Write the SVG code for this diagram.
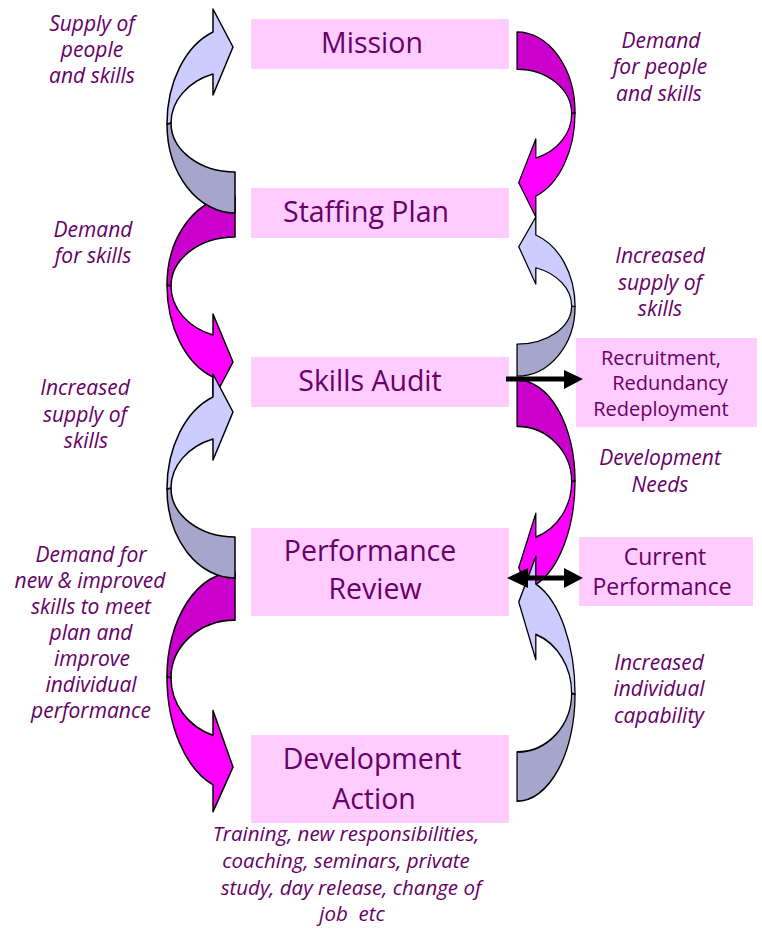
<svg xmlns="http://www.w3.org/2000/svg" xmlns:xlink="http://www.w3.org/1999/xlink" width="762" height="929" viewBox="0 0 762 929">
<style>
.box{fill:#FFCCFF;stroke:none}
.t{font-family:"Open Sans","Liberation Sans",sans-serif;fill:#660066;text-anchor:middle}
.big{font-size:28.5px}
.mid{font-size:23px}
.sm{font-size:20px}
.lbl{font-family:"Open Sans","Liberation Sans",sans-serif;font-style:italic;font-size:21px;fill:#660066;text-anchor:middle}
.bot{font-size:20.5px}
.sh{stroke:#000;stroke-width:1.5;stroke-linejoin:round;vector-effect:non-scaling-stroke}
.lb{fill:#CCCCFF}
.ld{fill:#A6A6CC}
.mb{fill:#FF00FF}
.md{fill:#CC00CC}
</style>
<defs>
<path id="back" d="M 171,123 A 64 49 0 0 0 235,172 L 235,213 A 68 89 0 0 1 167,124 Z"/>
<path id="front" d="M 167,124 A 68 97 0 0 1 213,32 L 213,9 L 233,47 L 213,95 L 213,74 A 64 52 0 0 0 171,123 Z"/>
</defs>
<rect width="762" height="929" fill="#FFFFFF"/>

<g id="mission"><rect class="box" x="251" y="19" width="258" height="50"/><text class="t big" x="372" y="53">Mission</text></g>
<g id="staffing-plan"><rect class="box" x="251" y="188" width="258" height="50"/><text class="t big" x="366" y="222">Staffing Plan</text></g>
<g id="skills-audit"><rect class="box" x="251" y="357" width="258" height="50"/><text class="t big" x="370" y="391">Skills Audit</text></g>
<g id="performance-review"><rect class="box" x="251" y="528" width="258" height="88"/><text class="t big" x="370" y="561">Performance</text><text class="t big" x="375" y="599">Review</text></g>
<g id="development-action"><rect class="box" x="251" y="735" width="258" height="88"/><text class="t big" x="372" y="769">Development</text><text class="t big" x="374" y="809">Action</text></g>
<g id="recruitment"><rect class="box" x="576" y="338" width="181" height="89"/><text class="t sm" x="661" y="365">Recruitment,</text><text class="t sm" x="670" y="390">Redundancy</text><text class="t sm" x="661" y="416">Redeployment</text></g>
<g id="current-performance"><rect class="box" x="579" y="537" width="174" height="69"/><text class="t mid" x="665" y="565">Current</text><text class="t mid" x="662" y="595">Performance</text></g>

<g id="connectors">
<g id="arrow-l2" transform="matrix(1,0,0,-1,0,409)"><use xlink:href="#back" class="sh md"/><use xlink:href="#front" class="sh mb"/></g>
<g id="arrow-l4" transform="matrix(1,0,0,-1.175,0,822.3)"><use xlink:href="#back" class="sh md"/><use xlink:href="#front" class="sh mb"/></g>
<g id="arrow-r1" transform="matrix(-0.853,0,0,-0.907,717.5,225.2)"><use xlink:href="#back" class="sh md"/><use xlink:href="#front" class="sh mb"/></g>
<g id="arrow-r3" transform="matrix(-0.853,0,0,-1.13,717.5,620.7)"><use xlink:href="#back" class="sh md"/><use xlink:href="#front" class="sh mb"/></g>
<g id="arrow-l1"><use xlink:href="#back" class="sh ld"/><use xlink:href="#front" class="sh lb"/></g>
<g id="arrow-l3" transform="translate(0,365)"><use xlink:href="#back" class="sh ld"/><use xlink:href="#front" class="sh lb"/></g>
<g id="arrow-r2" transform="matrix(-0.853,0,0,0.78,717.5,210)"><use xlink:href="#back" class="sh ld"/><use xlink:href="#front" class="sh lb"/></g>
<g id="arrow-r4" transform="matrix(-0.853,0,0,1.2,717.5,545.6)"><use xlink:href="#back" class="sh ld"/><use xlink:href="#front" class="sh lb"/></g>
<g id="arrow-audit-recruit"><line x1="506" y1="379" x2="566" y2="379" stroke="#000" stroke-width="5"/><polygon points="564,370 583,379 564,389" fill="#000"/></g>
<g id="arrow-review-current"><line x1="526" y1="578" x2="566" y2="578" stroke="#000" stroke-width="5"/><polygon points="507,578 528,568 528,588" fill="#000"/><polygon points="583,578 564,568 564,588" fill="#000"/></g>
</g>

<g id="labels">
<text class="lbl" x="92" y="31">Supply of</text><text class="lbl" x="92" y="57">people</text><text class="lbl" x="92" y="83">and skills</text>
<text class="lbl" x="93" y="237">Demand</text><text class="lbl" x="93" y="263">for skills</text>
<text class="lbl" x="85" y="395">Increased</text><text class="lbl" x="85" y="422">supply of</text><text class="lbl" x="86" y="448">skills</text>
<text class="lbl" x="91" y="562">Demand for</text><text class="lbl" x="90" y="588">new &amp; improved</text><text class="lbl" x="91" y="614">skills to meet</text><text class="lbl" x="91" y="640">plan and</text><text class="lbl" x="92" y="666">improve</text><text class="lbl" x="91" y="692">individual</text><text class="lbl" x="91" y="718">performance</text>
<text class="lbl" x="661" y="48">Demand</text><text class="lbl" x="660" y="74">for people</text><text class="lbl" x="659" y="101">and skills</text>
<text class="lbl" x="660" y="263">Increased</text><text class="lbl" x="660" y="290">supply of</text><text class="lbl" x="660" y="316">skills</text>
<text class="lbl" x="660" y="465">Development</text><text class="lbl" x="660" y="492">Needs</text>
<text class="lbl" x="659" y="670">Increased</text><text class="lbl" x="659" y="696">individual</text><text class="lbl" x="659" y="723">capability</text>
<text class="lbl bot" x="346" y="841">Training, new responsibilities,</text><text class="lbl bot" x="346" y="868">coaching, seminars, private</text><text class="lbl bot" x="351" y="895">study, day release, change of</text><text class="lbl bot" x="352" y="921" xml:space="preserve">job  etc</text>
</g>
</svg>
